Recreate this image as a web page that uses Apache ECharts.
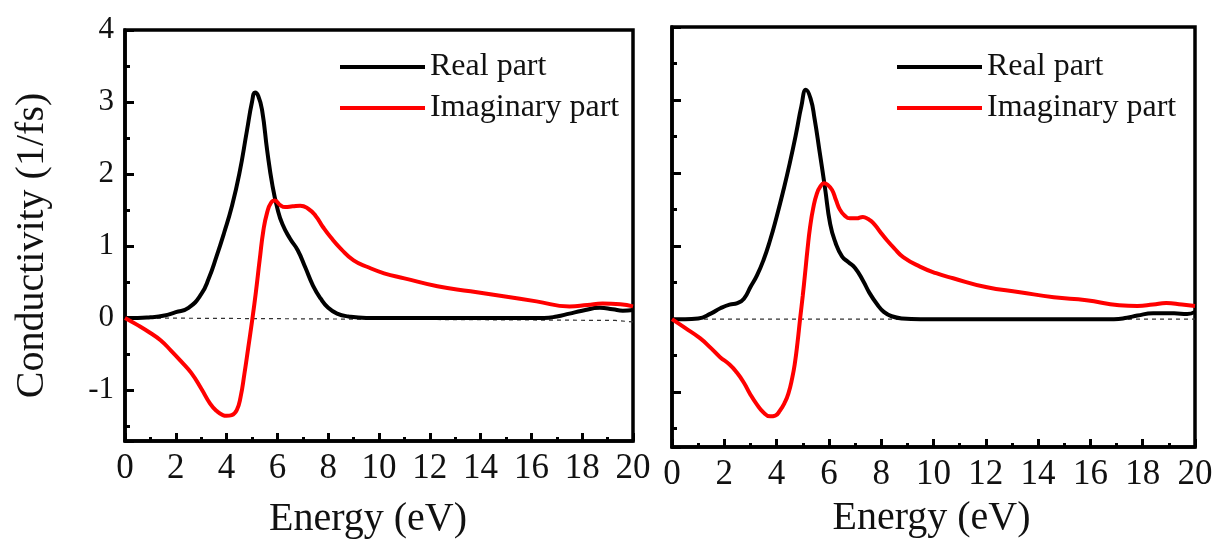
<!DOCTYPE html>
<html><head><meta charset="utf-8">
<script src="https://cdn.jsdelivr.net/npm/echarts@6/dist/echarts.min.js"></script>
<style>html,body{margin:0;padding:0;background:#fff}#c{width:1216px;height:544px}</style>
</head><body><div id="c"></div>
<script>
// ---- data ----
const seriesNames = ['Real part', 'Imaginary part'];

// Left panel, real part
const leftRealE = [0, 0.5, 1.0, 1.5, 2.0, 2.5, 3.0, 3.3, 3.6, 3.9, 4.2, 4.5, 4.8, 5.0, 5.12, 5.25, 5.4, 5.6, 5.8, 6.0, 6.2, 6.5, 6.8, 7.1, 7.4, 7.7, 8.0, 8.35, 8.8, 9.5, 12, 14, 16.5, 17.0, 17.5, 18.0, 18.7, 19.2, 19.6, 20];
const leftRealV = [0, 0.0, 0.01, 0.03, 0.08, 0.14, 0.33, 0.55, 0.85, 1.18, 1.54, 2.0, 2.6, 3.0, 3.13, 3.08, 2.88, 2.32, 1.85, 1.52, 1.3, 1.1, 0.94, 0.7, 0.45, 0.27, 0.14, 0.06, 0.02, 0.0, 0.0, 0.0, 0.0, 0.02, 0.06, 0.1, 0.14, 0.12, 0.1, 0.11];

// Left panel, imaginary part
const leftImagE = [0, 0.5, 1.0, 1.4, 1.8, 2.2, 2.6, 3.0, 3.35, 3.6, 3.85, 4.0, 4.2, 4.4, 4.55, 4.7, 4.85, 5.0, 5.15, 5.3, 5.45, 5.6, 5.75, 5.9, 6.1, 6.3, 6.6, 6.9, 7.2, 7.5, 7.8, 8.1, 8.5, 9.0, 9.6, 10.2, 11.0, 12.3, 13.6, 14.9, 16.2, 17.5, 18.2, 18.8, 19.5, 20];
const leftImagV = [0, -0.1, -0.21, -0.31, -0.45, -0.6, -0.76, -0.98, -1.19, -1.29, -1.35, -1.36, -1.35, -1.28, -1.1, -0.78, -0.42, -0.05, 0.35, 0.8, 1.22, 1.47, 1.6, 1.63, 1.57, 1.54, 1.55, 1.56, 1.52, 1.42, 1.26, 1.12, 0.96, 0.8, 0.7, 0.62, 0.55, 0.44, 0.37, 0.3, 0.23, 0.16, 0.18, 0.2, 0.19, 0.16];

// Left panel, dashed reference line
const leftZeroE = [0, 19.3, 20];
const leftZeroV = [0, -0.035, -0.055];

// Right panel, real part
const rightRealE = [0, 0.5, 1.0, 1.5, 1.85, 2.2, 2.5, 2.75, 3.0, 3.25, 3.5, 3.75, 4.0, 4.25, 4.5, 4.75, 4.95, 5.12, 5.3, 5.45, 5.65, 5.85, 6.05, 6.25, 6.5, 6.75, 7.0, 7.3, 7.55, 7.85, 8.1, 8.4, 8.8, 9.5, 12, 16.9, 17.4, 17.8, 18.4, 19.2, 19.7, 20];
const rightRealV = [0, 0, 0.01, 0.08, 0.15, 0.2, 0.22, 0.28, 0.44, 0.6, 0.81, 1.08, 1.4, 1.75, 2.13, 2.55, 2.92, 3.14, 3.02, 2.75, 2.28, 1.8, 1.3, 1.05, 0.86, 0.78, 0.7, 0.53, 0.36, 0.2, 0.1, 0.04, 0.01, 0, 0, 0, 0.02, 0.05, 0.08, 0.08, 0.07, 0.1];

// Right panel, imaginary part
const rightImagE = [0, 0.5, 1.07, 1.5, 1.84, 2.2, 2.48, 2.75, 2.98, 3.25, 3.48, 3.75, 3.95, 4.13, 4.3, 4.45, 4.6, 4.7, 4.8, 4.9, 5.0, 5.09, 5.18, 5.28, 5.4, 5.54, 5.68, 5.81, 5.95, 6.12, 6.27, 6.42, 6.6, 6.8, 7.05, 7.3, 7.5, 7.69, 7.95, 8.22, 8.5, 8.84, 9.48, 10.1, 10.75, 12.0, 13.3, 14.6, 15.85, 17.1, 17.8, 18.4, 18.9, 19.5, 20];
const rightImagV = [0, -0.12, -0.26, -0.4, -0.52, -0.62, -0.73, -0.87, -1.02, -1.17, -1.27, -1.33, -1.32, -1.25, -1.15, -1.02, -0.8, -0.6, -0.32, 0.01, 0.32, 0.63, 0.95, 1.26, 1.52, 1.72, 1.82, 1.86, 1.84, 1.77, 1.63, 1.5, 1.42, 1.38, 1.38, 1.4, 1.37, 1.32, 1.2, 1.08, 0.97, 0.85, 0.72, 0.63, 0.56, 0.44, 0.37, 0.3, 0.26, 0.19, 0.18, 0.2, 0.22, 0.2, 0.18];

// Right panel, dashed reference line
const rightZeroE = [0, 20];
const rightZeroV = [0, 0];

// axes
const energyRange = [0, 20];
const energyStep = 2;
const condRangeLeft = [-1.71, 4];
const condRangeRight = [-1.75, 4];
const xTitle = 'Energy (eV)';
const yTitle = 'Conductivity (1/fs)';

// ---- chart ----
const F = '"Liberation Serif", "Times New Roman", serif';
const pairs = (xs, ys) => xs.map((x, i) => [x, ys[i]]);

function curve(name, xs, ys, color, idx) {
  return { name, type: 'line', xAxisIndex: idx, yAxisIndex: idx, data: pairs(xs, ys),
    symbol: 'none', smooth: 0.5, lineStyle: { color, width: 4 }, itemStyle: { color }, z: 4 };
}
function zeroLine(xs, ys, idx) {
  return { name: 'zero', type: 'line', xAxisIndex: idx, yAxisIndex: idx, data: pairs(xs, ys),
    symbol: 'none', silent: true, lineStyle: { color: '#333', width: 1.2, type: [4, 4] }, z: 2 };
}
function xAx(idx, gap, pad) {
  return { type: 'value', gridIndex: idx, min: energyRange[0], max: energyRange[1], interval: energyStep,
    name: xTitle, nameLocation: 'middle', nameGap: gap,
    nameTextStyle: { fontFamily: F, fontSize: 40, color: '#111', padding: pad },
    axisLine: { onZero: false, lineStyle: { color: '#000', width: 3.5 } },
    axisTick: { inside: true, length: 8, lineStyle: { color: '#000', width: 3 } },
    minorTick: { show: true, splitNumber: 2, length: 4, lineStyle: { color: '#000', width: 3 } },
    axisLabel: { fontFamily: F, fontSize: 35, color: '#111', margin: 10 },
    splitLine: { show: false }, minorSplitLine: { show: false } };
}
function yAx(idx, range, showLabels) {
  const ax = { type: 'value', gridIndex: idx, min: range[0], max: range[1], splitNumber: 6,
    axisLine: { onZero: false, lineStyle: { color: '#000', width: 3.5 } },
    axisTick: { inside: true, length: 9, lineStyle: { color: '#000', width: 3 } },
    minorTick: { show: true, splitNumber: 2, length: 5, lineStyle: { color: '#000', width: 3 } },
    axisLabel: { show: showLabels, showMinLabel: false, fontFamily: F, fontSize: 31, color: '#111', margin: 11 },
    splitLine: { show: false }, minorSplitLine: { show: false } };
  if (showLabels) {
    ax.name = yTitle; ax.nameLocation = 'middle'; ax.nameGap = 73;
    ax.nameTextStyle = { fontFamily: F, fontSize: 40, color: '#111', padding: [0, 20, 0, 0] };
  }
  return ax;
}
function legendAt(left) {
  return { data: seriesNames, orient: 'vertical', left, top: 46, icon: 'rect', itemWidth: 85, itemHeight: 4, itemGap: 9,
    textStyle: { fontFamily: F, fontSize: 32, color: '#111' }, selectedMode: false };
}

const chart = echarts.init(document.getElementById('c'), null, { renderer: 'canvas' });
chart.setOption({
  backgroundColor: '#fff',
  animation: false,
  grid: [
    { left: 125, top: 30, width: 508, height: 414, show: true, borderColor: '#000', borderWidth: 3.5 },
    { left: 672, top: 27, width: 523, height: 420, show: true, borderColor: '#000', borderWidth: 3.5 }
  ],
  legend: [legendAt(335), legendAt(892)],
  xAxis: [xAx(0, 58, [0, 22, 0, 0]), xAx(1, 51, [0, 4, 0, 0])],
  yAxis: [yAx(0, condRangeLeft, true), yAx(1, condRangeRight, false)],
  series: [
    zeroLine(leftZeroE, leftZeroV, 0),
    curve(seriesNames[0], leftRealE, leftRealV, '#000000', 0),
    curve(seriesNames[1], leftImagE, leftImagV, '#ff0000', 0),
    zeroLine(rightZeroE, rightZeroV, 1),
    curve(seriesNames[0], rightRealE, rightRealV, '#000000', 1),
    curve(seriesNames[1], rightImagE, rightImagV, '#ff0000', 1)
  ]
});
</script>
</body></html>
